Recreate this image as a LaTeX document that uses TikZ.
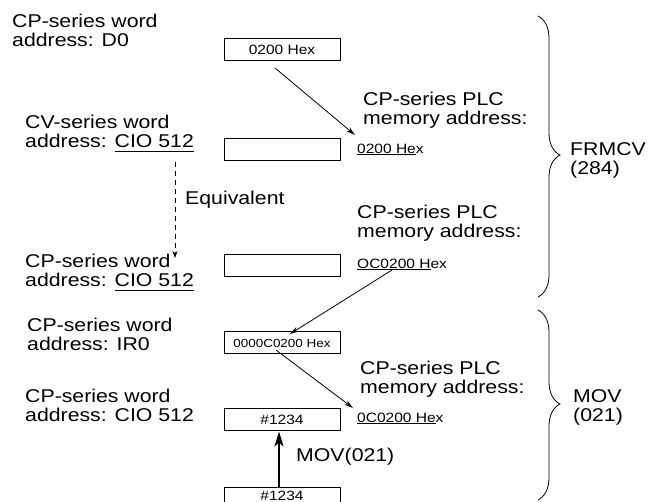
\documentclass[tikz,border=0pt]{standalone}
\usepackage{fontspec}
\setmainfont[FakeStretch=1.15]{Liberation Sans}
\usetikzlibrary{arrows.meta,decorations.pathreplacing,calc}
\newlength\ulw
\newcommand\myul[2][4]{\settowidth\ulw{#2}\rlap{\rule[-#1pt]{\ulw}{1pt}}#2}
\begin{document}
\begin{tikzpicture}[x=1pt,y=-1pt,
  lbl/.style={font=\fontsize{18.5}{19}\selectfont, align=left, anchor=base west, inner sep=0pt},
  val/.style={font=\fontsize{13.5}{15}\selectfont, anchor=base west, inner sep=0pt},
  box/.style={draw, line width=1pt, minimum width=116pt, minimum height=22pt, inner sep=0pt, font=\fontsize{13.5}{15}\selectfont},
  thinarrow/.style={line width=0.8pt, -{Stealth[length=9pt,width=5pt]}},
  movarrow/.style={line width=1.6pt, -{Stealth[length=15pt,width=9pt,inset=4pt]}},
  dasharrow/.style={line width=0.8pt, dash pattern=on 5pt off 4pt, -{Stealth[length=7pt,width=5pt]}},
  bracedeco/.style={decorate, decoration={brace, amplitude=22pt, aspect=0.495}, line width=0.8pt}
]
\useasboundingbox (0,0) rectangle (654,502);

% left labels (anchor = baseline of last line)
\node[lbl] (l1) at (12,47) {CP-series word\\address: D0};
\node[lbl] (l2) at (25,148) {CV-series word\\address: \myul[4.5]{CIO 512}};
\node[lbl] (l3) at (25,287) {CP-series word\\address: \myul[4.5]{CIO 512}};
\node[lbl] (l4) at (27,351) {CP-series word\\address: IR0};
\node[lbl] (l5) at (25,422) {CP-series word\\address: CIO 512};
\node[lbl] (eq) at (185,205) {Equivalent};

% boxes
\node[box] (b1) at (282,50) {0200 Hex};
\node[box] (b2) at (282,149.5) {};
\node[box] (b3) at (282,265.5) {};
\node[box, font=\fontsize{11.7}{13}\selectfont] (b4) at (282,343) {0000C0200 Hex};
\node[box] (b5) at (282,420) {\#1234};
\node[box, minimum height=17pt, anchor=north] (b6) at (282,487) {\#1234};

% right labels
\node[lbl] (r1) at (363,125) {CP-series PLC\\memory address:};
\node[val] (v1) at (357,154) {\myul[1.5]{0200 He}x};
\node[lbl] (r2) at (357,238) {CP-series PLC\\memory address:};
\node[val] (v2) at (357,269) {\myul[1.5]{OC0200 H}ex};
\node[lbl] (r3) at (360,394) {CP-series PLC\\memory address:};
\node[val] (v3) at (357,423) {\myul[1.5]{0C0200 He}x};
\node[lbl] (frm) at (570,175) {FRMCV\\(284)};
\node[lbl] (mv) at (573,422) {MOV\\(021)};
\node[lbl] (movlbl) at (296,462) {MOV(021)};

% connectors
\coordinate (a1s) at (275,68);
\coordinate (a1e) at (355,135);
\draw[thinarrow] (a1s) -- (a1e);
\coordinate (a2s) at (392,270);
\coordinate (a2e) at (290,334);
\draw[thinarrow] (a2s) -- (a2e);
\coordinate (a3s) at (276,350);
\coordinate (a3e) at (353,408);
\draw[thinarrow] (a3s) -- (a3e);
\coordinate (ds) at (175,162);
\coordinate (de) at (175,258);
\draw[dasharrow] (ds) -- (de);
\draw[movarrow] ($(b6.north)+(-3,0)$) -- ($(b5.south)+(-3,0)$);

% braces
\coordinate (br1t) at (538,16);
\coordinate (br1b) at (538,297);
\coordinate (br2t) at (538,310);
\coordinate (br2b) at (538,500);
\draw[bracedeco] (br1t) -- (br1b);
\draw[bracedeco] (br2t) -- (br2b);
\end{tikzpicture}
\end{document}
